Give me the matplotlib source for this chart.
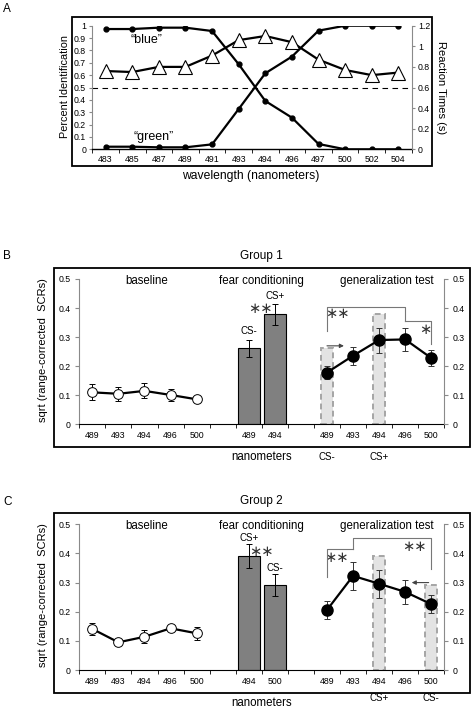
import numpy as np
import matplotlib
matplotlib.use('Agg')
import matplotlib.pyplot as plt
from matplotlib.patches import Rectangle

plt.rcParams['font.family'] = ['Liberation Sans', 'DejaVu Sans']

# ---- dados: painel A ----
wavelengths_a = ['483', '485', '487', '489', '491', '493', '494', '496', '497', '500', '502', '504']
blue_pct = [0.973, 0.973, 0.984, 0.984, 0.957, 0.688, 0.391, 0.256, 0.043, 0.0, 0.0, 0.0]
green_pct = [0.021, 0.021, 0.016, 0.016, 0.040, 0.326, 0.615, 0.750, 0.960, 1.0, 1.0, 1.0]
reaction_time = [0.76, 0.75, 0.80, 0.80, 0.91, 1.06, 1.10, 1.04, 0.87, 0.77, 0.72, 0.745]

# ---- dados: paineis B e C ----
baseline_nm = ['489', '493', '494', '496', '500']
test_nm = ['489', '493', '494', '496', '500']

g1_baseline = [0.110, 0.105, 0.115, 0.101, 0.086]
g1_baseline_err = [0.027, 0.025, 0.026, 0.020, 0.004]
g1_fear_nm = ['489', '494']
g1_fear_lbl = ['CS-', 'CS+']
g1_fear = [0.261, 0.378]
g1_fear_err = [0.029, 0.037]
g1_test = [0.178, 0.236, 0.290, 0.292, 0.228]
g1_test_err = [0.022, 0.031, 0.043, 0.041, 0.028]

g2_baseline = [0.141, 0.095, 0.114, 0.143, 0.126]
g2_baseline_err = [0.022, 0.005, 0.022, 0.005, 0.023]
g2_fear_nm = ['494', '500']
g2_fear_lbl = ['CS+', 'CS-']
g2_fear = [0.391, 0.291]
g2_fear_err = [0.040, 0.038]
g2_test = [0.206, 0.323, 0.296, 0.268, 0.226]
g2_test_err = [0.030, 0.047, 0.048, 0.042, 0.031]

W, H = 474, 711
fig = plt.figure(figsize=(W / 100, H / 100), dpi=100)


def fx(px):
    return px / W


def fy(py):
    return 1 - py / H


def frame(x0, y0, x1, y1):
    fig.add_artist(Rectangle((fx(x0), fy(y1)), fx(x1) - fx(x0), fy(y0) - fy(y1),
                             transform=fig.transFigure, fill=False, lw=1.3, ec='k'))


TICK = 6.3
GRAY = '#8a8a8a'
STAR = 10.5

# ================= Painel A =================
axA = fig.add_axes([fx(92.3), fy(149.3), fx(411.7) - fx(92.3), fy(25.7) - fy(149.3)])
xa = np.arange(len(wavelengths_a))
axA.plot(xa, blue_pct, '-o', color='k', lw=1.6, ms=3.5, zorder=3)
axA.plot(xa, green_pct, '-o', color='k', lw=1.6, ms=3.5, zorder=3)
axA.axhline(0.5, color='k', lw=0.8, ls=(0, (5, 4)))
axA.set_xlim(-0.5, len(xa) - 0.5)
axA.set_ylim(0, 1)
axA.set_yticks(np.arange(0, 1.01, 0.1))
axA.set_yticklabels(['0', '0.1', '0.2', '0.3', '0.4', '0.5', '0.6', '0.7', '0.8', '0.9', '1'])
axA.set_xticks(xa)
axA.set_xticklabels(wavelengths_a)
axA.set_xticks(np.arange(-0.5, len(xa), 1.0), minor=True)
axA.tick_params(axis='x', which='major', length=0, labelsize=TICK, pad=4)
axA.tick_params(axis='x', which='minor', length=3, color='k')
axA.tick_params(axis='y', length=2.5, color=GRAY, labelsize=TICK, pad=2)
for s in ['top', 'right']:
    axA.spines[s].set_visible(False)
axA.spines['left'].set_color(GRAY)
axA.spines['bottom'].set_linewidth(1.0)
axA.text(1.55, 0.885, '\u201cblue\u201d', ha='center', va='center', fontsize=9)
axA.text(1.8, 0.1, '\u201cgreen\u201d', ha='center', va='center', fontsize=9)

axA2 = axA.twinx()
axA2.plot(xa, reaction_time, '-^', color='k', lw=1.6, ms=10, mfc='white', mec='k',
          mew=0.8, zorder=4)
axA2.set_ylim(0, 1.2)
axA2.set_yticks(np.arange(0, 1.21, 0.2))
axA2.set_yticklabels(['0', '0.2', '0.4', '0.6', '0.8', '1', '1.2'])
axA2.tick_params(axis='y', length=2.5, color=GRAY, labelsize=TICK, pad=2)
for s in ['top', 'left', 'bottom']:
    axA2.spines[s].set_visible(False)
axA2.spines['right'].set_color(GRAY)

frame(71.7, 17.3, 432.3, 166)
fig.text(fx(7), fy(9), 'A', ha='center', va='center', fontsize=8.5)
fig.text(fx(65), fy(87), 'Percent Identification', rotation=90, ha='center', va='center', fontsize=7.8)
fig.text(fx(441), fy(88), 'Reaction Times (s)', rotation=270, ha='center', va='center', fontsize=8)
fig.text(fx(251), fy(176), 'wavelength (nanometers)', ha='center', va='center', fontsize=8.7)


# ================= Paineis B e C =================
def group_panel(top_px, bottom_px, frame_box, letter, letter_y, title, title_y,
                base, base_err, fear_nm, fear_lbl, fear, fear_err, fear_lbl_y, fear_star,
                test, test_err, ghosts, cs_below, cs_y, nano_y, brackets, stars, arrow):
    ax = fig.add_axes([fx(79.3), fy(bottom_px), fx(444.3) - fx(79.3), fy(top_px) - fy(bottom_px)])
    base_x = np.arange(len(base))
    fear_x = len(base) + 1 + np.arange(len(fear))
    test_x = fear_x[-1] + 2 + np.arange(len(test))

    # barras "fantasma" tracejadas
    for idx, h in ghosts:
        ax.bar(test_x[idx], h, width=0.47, color='#e3e3e3', edgecolor='#a5a5a5',
               ls=(0, (3, 2)), lw=1.4, zorder=1)

    ax.bar(fear_x, fear, width=0.85, color='#808080', edgecolor='k', lw=0.8, zorder=2)
    ax.errorbar(fear_x, fear, yerr=fear_err, fmt='none', ecolor='k', elinewidth=0.7,
                capsize=2, capthick=0.7, zorder=3)

    ax.errorbar(base_x, base, yerr=base_err, fmt='-o', color='k', lw=1.6, ms=7,
                mfc='white', mec='k', mew=0.7, elinewidth=0.7, capsize=2, capthick=0.7, zorder=4)
    ax.errorbar(test_x, test, yerr=test_err, fmt='-o', color='k', lw=1.6, ms=8,
                mfc='k', mec='k', elinewidth=0.7, ecolor='#333333', capsize=2, capthick=0.7, zorder=4)

    n = test_x[-1] + 1
    ax.set_xlim(-0.5, n - 0.5)
    ax.set_ylim(0, 0.5)
    ax.set_yticks(np.arange(0, 0.51, 0.1))
    ax.set_yticklabels(['0', '0.1', '0.2', '0.3', '0.4', '0.5'])
    ax.set_xticks(np.concatenate([base_x, fear_x, test_x]))
    ax.set_xticklabels(baseline_nm + fear_nm + test_nm)
    ax.set_xticks(np.arange(-0.5, n, 1.0), minor=True)
    ax.tick_params(axis='x', which='major', length=0, labelsize=TICK, pad=5)
    ax.tick_params(axis='x', which='minor', length=3, color='k')
    ax.tick_params(axis='y', length=3, color=GRAY, labelsize=TICK, pad=3)
    for s in ['top', 'right']:
        ax.spines[s].set_visible(False)
    ax.spines['left'].set_color(GRAY)

    ax2 = ax.twinx()
    ax2.set_ylim(0, 0.5)
    ax2.set_yticks(np.arange(0, 0.51, 0.1))
    ax2.set_yticklabels(['0', '0.1', '0.2', '0.3', '0.4', '0.5'])
    ax2.tick_params(axis='y', length=3, color=GRAY, labelsize=TICK, pad=3)
    for s in ['top', 'left', 'bottom']:
        ax2.spines[s].set_visible(False)
    ax2.spines['right'].set_color(GRAY)

    # titulos das secoes
    ax.text(2.1, 0.494, 'baseline', ha='center', va='center', fontsize=8.3)
    ax.text(6.5, 0.494, 'fear conditioning', ha='center', va='center', fontsize=8.3)
    ax.text(11.28, 0.494, 'generalization test', ha='center', va='center', fontsize=8.3)

    for xi, lbl, yl in zip(fear_x, fear_lbl, fear_lbl_y):
        ax.text(xi, yl, lbl, ha='center', va='center', fontsize=7)
    ax.text(fear_star[0], fear_star[1], '\u2217\u2217', ha='center', va='center',
            fontsize=STAR, family='DejaVu Sans', color='#333333')

    for pts in brackets:
        bx = [test_x[0] + p[0] for p in pts]
        by = [p[1] for p in pts]
        ax.plot(bx, by, color='#777777', lw=0.8, zorder=5)
    for sx, sy, st in stars:
        ax.text(test_x[0] + sx, sy, st, ha='center', va='center', fontsize=STAR,
                family='DejaVu Sans', color='#333333')
    ax.annotate('', xy=(test_x[0] + arrow[1], arrow[2]), xytext=(test_x[0] + arrow[0], arrow[2]),
                arrowprops=dict(arrowstyle='-|>', color='#444444', lw=0.8,
                                mutation_scale=6, shrinkA=0, shrinkB=0))

    for idx, lbl in cs_below:
        xpix = 79.3 + (test_x[idx] + 0.5) * (444.3 - 79.3) / n
        fig.text(fx(xpix), fy(cs_y), lbl, ha='center', va='center', fontsize=7)

    frame(*frame_box)
    fig.text(fx(7.3), fy(letter_y), letter, ha='center', va='center', fontsize=8.5)
    fig.text(fx(261), fy(title_y), title, ha='center', va='center', fontsize=8.5)
    fig.text(fx(262), fy(nano_y), 'nanometers', ha='center', va='center', fontsize=8.3)
    fig.text(fx(43), fy((top_px + bottom_px) / 2 - 2), 'sqrt (range-corrected  SCRs)',
             rotation=90, ha='center', va='center', fontsize=8)
    return ax


group_panel(279, 424.3, (54.3, 268.3, 470, 446.7), 'B', 256, 'Group 1', 256,
            g1_baseline, g1_baseline_err, g1_fear_nm, g1_fear_lbl, g1_fear, g1_fear_err,
            [0.322, 0.442], (6.45, 0.398),
            g1_test, g1_test_err, [(0, g1_fear[0]), (2, g1_fear[1])],
            [(0, 'CS-'), (2, 'CS+')], 457, 457,
            [[(0, 0.322), (0, 0.405), (3, 0.405), (3, 0.355)],
             [(3, 0.355), (4, 0.355), (4, 0.276)]],
            [(0.4, 0.38, '\u2217\u2217'), (3.75, 0.327, '\u2217')],
            (0.0, 0.65, 0.27))

group_panel(524.3, 670, (54.3, 513.3, 470, 693.3), 'C', 501.7, 'Group 2', 501,
            g2_baseline, g2_baseline_err, g2_fear_nm, g2_fear_lbl, g2_fear, g2_fear_err,
            [0.452, 0.349], (6.47, 0.408),
            g2_test, g2_test_err, [(2, g2_fear[0]), (4, g2_fear[1])],
            [(2, 'CS+'), (4, 'CS-')], 698, 703,
            [[(0, 0.32), (0, 0.415), (1, 0.415)],
             [(1, 0.415), (1, 0.453), (4, 0.453), (4, 0.347)]],
            [(0.35, 0.387, '\u2217\u2217'), (3.35, 0.424, '\u2217\u2217')],
            (3.9, 3.25, 0.30))

fig.savefig('out.png', dpi=100)
